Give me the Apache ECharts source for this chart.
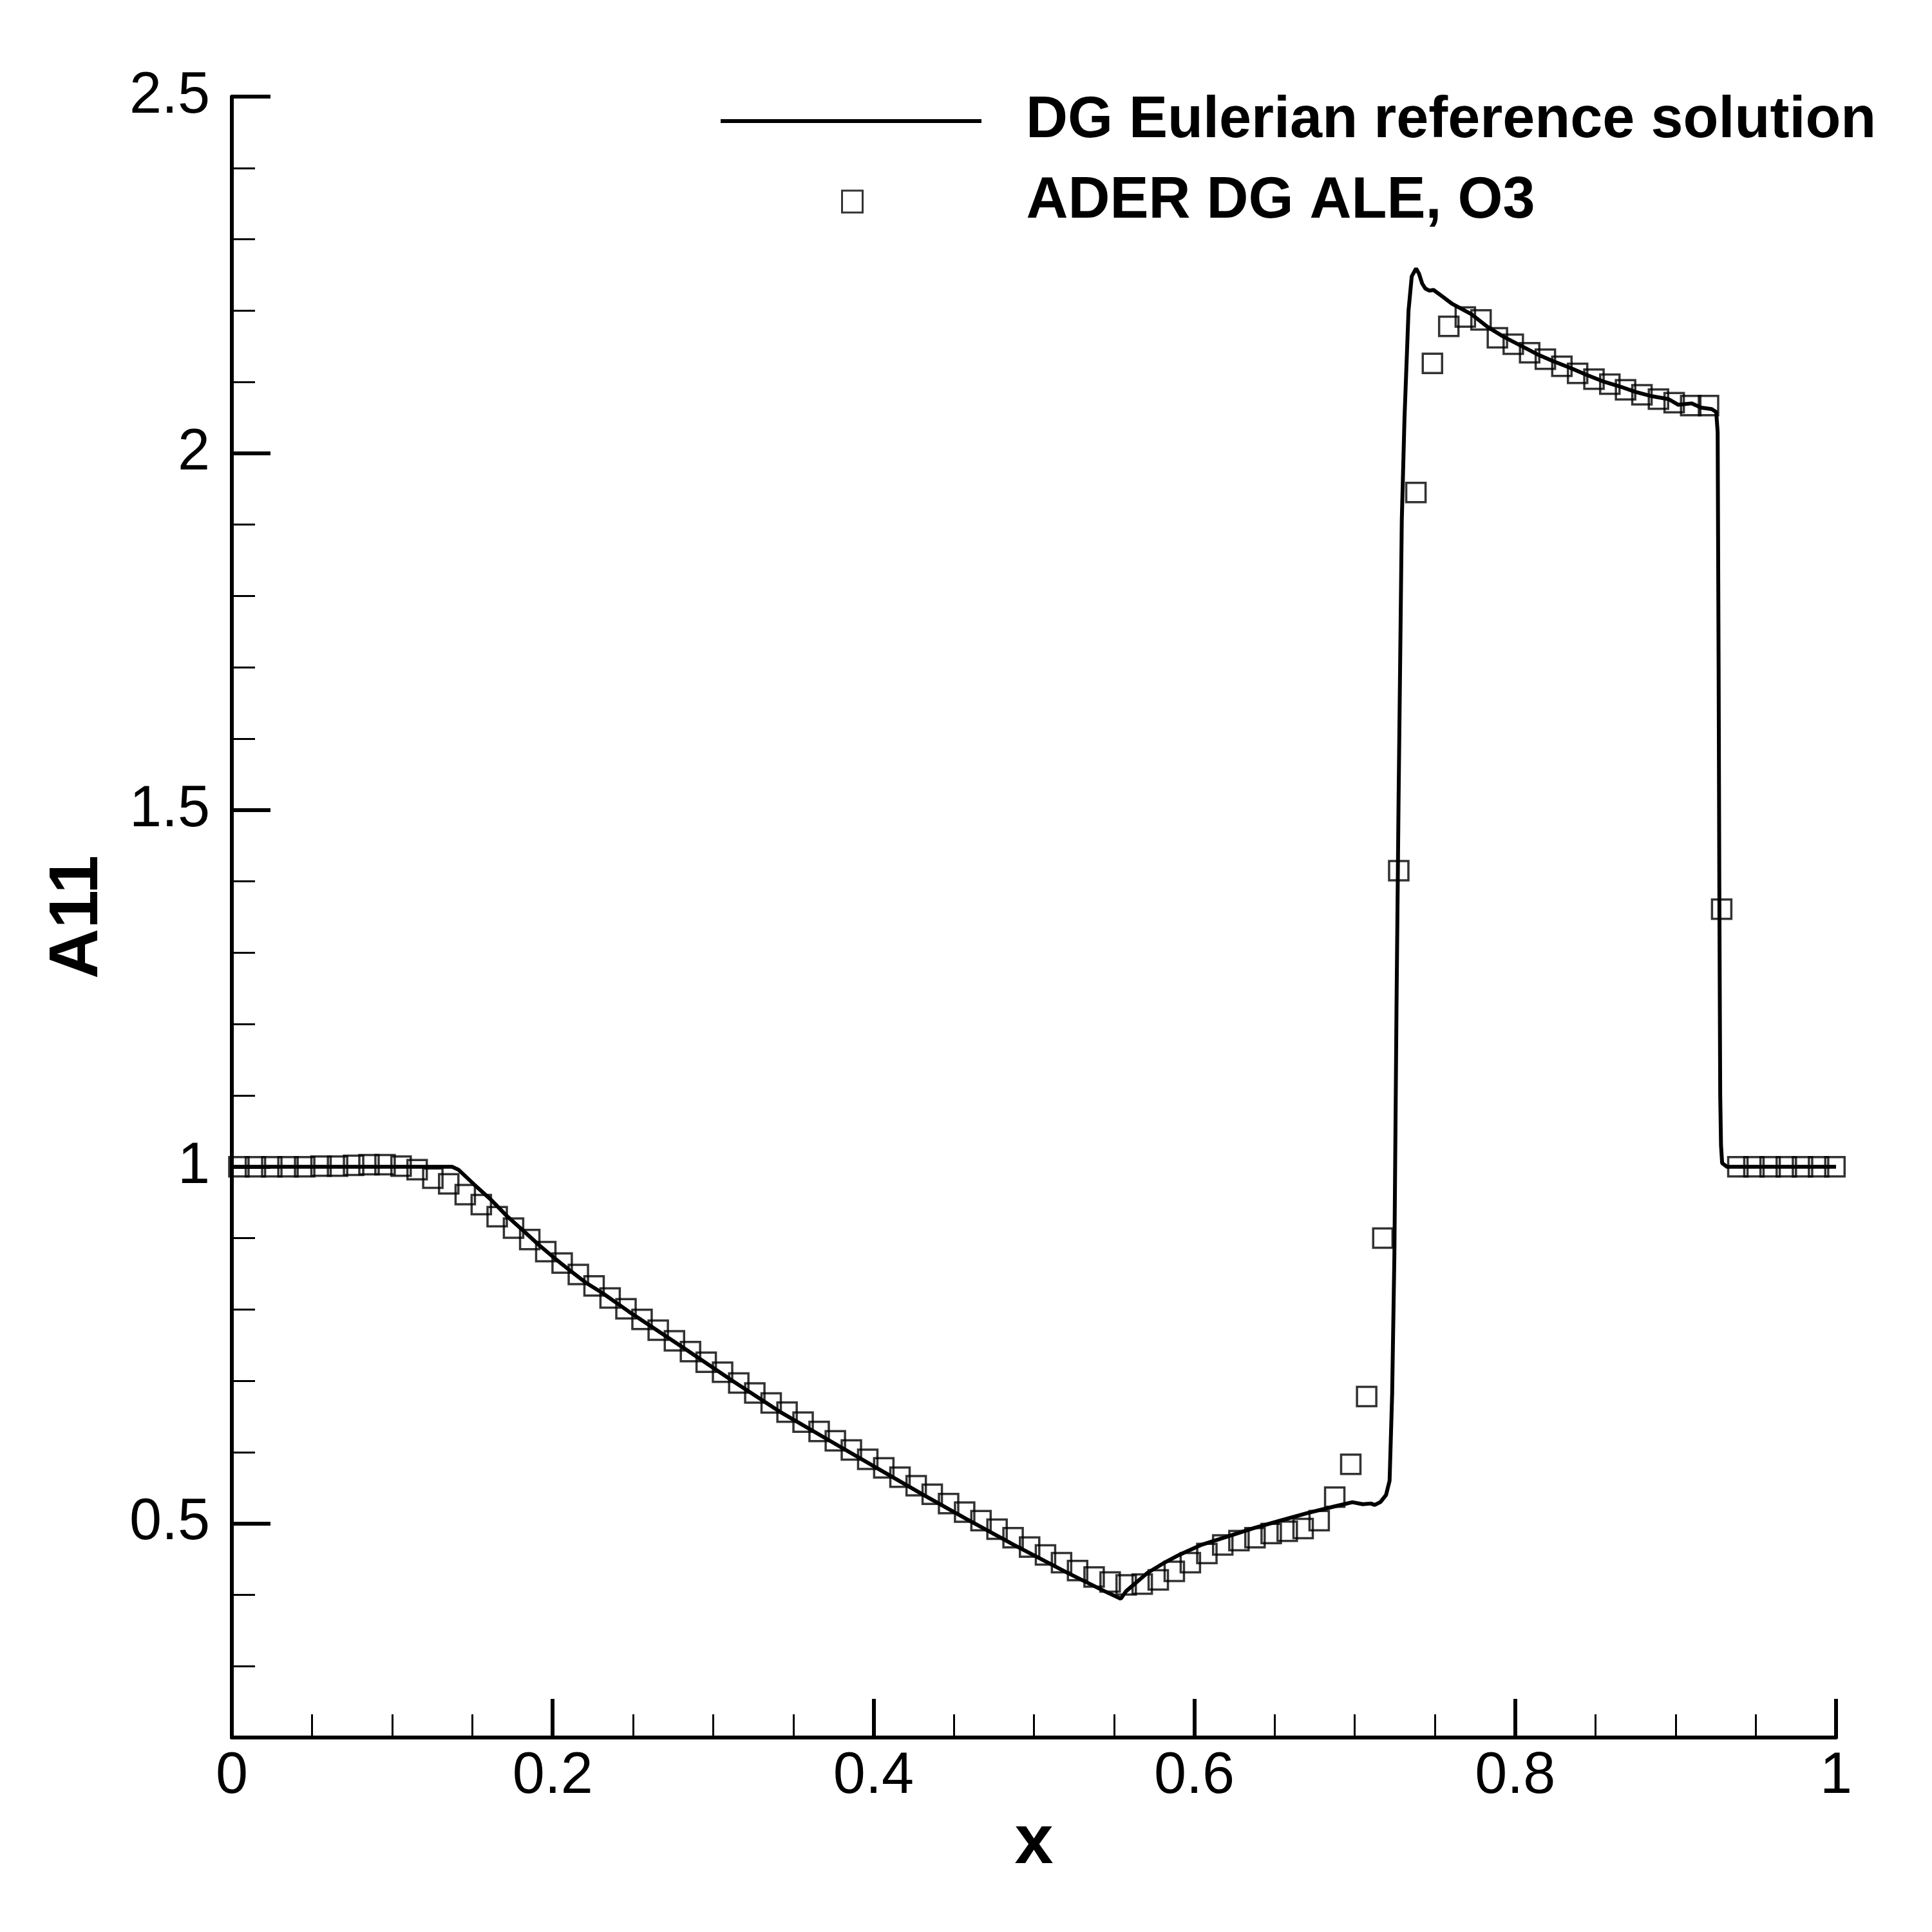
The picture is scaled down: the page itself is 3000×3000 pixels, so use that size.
<!DOCTYPE html>
<html>
<head>
<meta charset="utf-8">
<script src="https://cdn.jsdelivr.net/npm/echarts@6/dist/echarts.min.js"></script>
<style>
  html, body { margin: 0; padding: 0; background: #fff; }
  #chart { width: 3000px; height: 3000px; }
</style>
</head>
<body>
<div id="chart"></div>
<script>
// DG Eulerian reference solution (line)
var refX = [0, 0.05, 0.1, 0.1342, 0.1373, 0.1412, 0.1511, 0.1619, 0.1719, 0.1819, 0.1911, 0.2011,
  0.2111, 0.2210, 0.2310, 0.2475, 0.2813, 0.3120, 0.3428, 0.3735, 0.4011, 0.4319, 0.4577, 0.4875,
  0.5208, 0.5441, 0.5541, 0.5574, 0.5707, 0.5807, 0.5907, 0.6040, 0.6207, 0.6373, 0.6539, 0.6706,
  0.6872, 0.6985, 0.7050, 0.7100, 0.7124, 0.7160, 0.7195, 0.7217, 0.7233, 0.7247, 0.7260, 0.7273,
  0.7293, 0.7310, 0.7335, 0.7355, 0.7382, 0.7400, 0.7420, 0.7440, 0.7465, 0.7491, 0.7545, 0.7604,
  0.7727, 0.7829, 0.7931, 0.8034, 0.8136, 0.8238, 0.8341, 0.8444, 0.8546, 0.8648, 0.8751, 0.8853,
  0.8956, 0.9017, 0.9099, 0.9160, 0.9225, 0.9253, 0.9262, 0.9268, 0.9273, 0.9278, 0.9283, 0.9290,
  0.9320, 1.0];
var refY = [1.0, 1.0, 1.0, 1.0, 1.0, 0.996, 0.975, 0.953, 0.930, 0.910, 0.891, 0.872,
  0.854, 0.837, 0.823, 0.797, 0.7465, 0.700, 0.655, 0.615, 0.579, 0.539, 0.5065, 0.470,
  0.431, 0.405, 0.3945, 0.405, 0.4306, 0.4442, 0.4562, 0.4697, 0.4817, 0.4937, 0.5042, 0.5147,
  0.5238, 0.5298, 0.527, 0.528, 0.526, 0.530, 0.540, 0.560, 0.682, 0.878, 1.221, 1.514,
  1.906, 2.050, 2.200, 2.248, 2.259, 2.252, 2.238, 2.231, 2.228, 2.229, 2.220, 2.210,
  2.195, 2.177, 2.163, 2.151, 2.139, 2.129, 2.120, 2.110, 2.101, 2.094, 2.086, 2.080,
  2.076, 2.068, 2.070, 2.064, 2.062, 2.058, 2.030, 1.700, 1.360, 1.100, 1.030, 1.005,
  1.000, 1.000];

// ADER DG ALE, O3 (squares)
var aleX = [0.0044, 0.0147, 0.0249, 0.0350, 0.0454, 0.0556, 0.0659, 0.0759, 0.0855, 0.0955,
  0.1055, 0.1155, 0.1253, 0.1352, 0.1455, 0.1555, 0.1654, 0.1756, 0.1857, 0.1957,
  0.2059, 0.2160, 0.2258, 0.2358, 0.2457, 0.2557, 0.2658, 0.2759, 0.2859, 0.2957,
  0.3059, 0.3160, 0.3260, 0.3362, 0.3461, 0.3561, 0.3661, 0.3762, 0.3862, 0.3964,
  0.4064, 0.4165, 0.4266, 0.4366, 0.4468, 0.4568, 0.4670, 0.4770, 0.4870, 0.4973,
  0.5072, 0.5172, 0.5272, 0.5375, 0.5475, 0.5575, 0.5675, 0.5775, 0.5875, 0.5975,
  0.6078, 0.6177, 0.6278, 0.6378, 0.6479, 0.6579, 0.6678, 0.6778, 0.6875, 0.6975,
  0.7074, 0.7175, 0.7274, 0.7381, 0.7484, 0.7586, 0.7689, 0.7787, 0.7889, 0.7988,
  0.8090, 0.8188, 0.8291, 0.8389, 0.8491, 0.8590, 0.8688, 0.8790, 0.8893, 0.8991,
  0.9094, 0.9205, 0.9287, 0.9388, 0.9488, 0.9589, 0.9690, 0.9791, 0.9891, 0.9993];
var aleY = [1.000, 1.000, 1.000, 1.000, 1.000, 1.001, 1.001, 1.002, 1.003, 1.003,
  1.001, 0.996, 0.984, 0.976, 0.961, 0.947, 0.930, 0.914, 0.898, 0.881,
  0.865, 0.849, 0.833, 0.816, 0.801, 0.786, 0.771, 0.756, 0.741, 0.726,
  0.712, 0.697, 0.683, 0.669, 0.656, 0.642, 0.629, 0.616, 0.603, 0.590,
  0.578, 0.565, 0.553, 0.541, 0.528, 0.516, 0.504, 0.492, 0.480, 0.467,
  0.456, 0.445, 0.434, 0.425, 0.418, 0.414, 0.415, 0.421, 0.433, 0.445,
  0.458, 0.470, 0.476, 0.480, 0.486, 0.489, 0.493, 0.504, 0.537, 0.583,
  0.678, 0.900, 1.415, 1.945, 2.126, 2.178, 2.191, 2.187, 2.162, 2.153,
  2.141, 2.132, 2.122, 2.112, 2.104, 2.097, 2.089, 2.082, 2.076, 2.071,
  2.067, 2.067, 1.361, 1.000, 1.000, 1.000, 1.000, 1.000, 1.000, 1.000];

var seriesNames = ['DG Eulerian reference solution', 'ADER DG ALE, O3'];
var xRange = [0, 1];
var yRange = [0.2, 2.5];
var yMajorFrom = 0.5;  // first labelled y tick

var FONT = 'Liberation Sans, Arial, sans-serif';

function zip(xs, ys) {
  var out = [];
  for (var i = 0; i < xs.length; i++) out.push([xs[i], ys[i]]);
  return out;
}
function fmt(v) { return String(+v.toFixed(2)); }

// grid geometry (px)
var gLeft = 360, gRight = 149, gTop = 150, gBottom = 302;
var plotH = 3000 - gTop - gBottom;
var pxPerUnit = plotH / (yRange[1] - yRange[0]);
// second grid only carries the labelled major y ticks, starting at 0.5
var g2Bottom = gBottom + (yMajorFrom - yRange[0]) * pxPerUnit;

var chart = echarts.init(document.getElementById('chart'), null, { renderer: 'canvas' });

var option = {
  animation: false,
  backgroundColor: '#fff',
  textStyle: { fontFamily: FONT, color: '#000' },
  grid: [
    { left: gLeft, right: gRight, top: gTop, bottom: gBottom, outerBoundsMode: 'none' },
    { left: gLeft, right: gRight, top: gTop, bottom: g2Bottom, outerBoundsMode: 'none' }
  ],
  legend: [
    {
      data: [{ name: seriesNames[0], icon: 'rect' }],
      left: 1119, top: 143, padding: 0, itemGap: 0,
      itemWidth: 405, itemHeight: 6,
      selectedMode: false,
      itemStyle: { color: '#000', borderWidth: 0 },
      textStyle: { fontSize: 90, fontWeight: 'bold', fontFamily: FONT, color: '#000', padding: [0, 0, 0, 64] }
    },
    {
      data: [seriesNames[1]],
      left: 1306, top: 268, padding: 0, itemGap: 0,
      itemWidth: 32, itemHeight: 34,
      selectedMode: false,
      itemStyle: { color: 'rgba(0,0,0,0)', borderColor: '#000', borderWidth: 3 },
      textStyle: { fontSize: 90, fontWeight: 'bold', fontFamily: FONT, color: '#000', padding: [0, 0, 0, 249] }
    }
  ],
  xAxis: [
    {
      type: 'value', gridIndex: 0, min: xRange[0], max: xRange[1], interval: 0.2,
      name: 'x', nameLocation: 'middle', nameGap: 106,
      nameTextStyle: { fontSize: 108, fontWeight: 'bold', fontFamily: FONT, color: '#000' },
      axisLine: { show: true, onZero: false, lineStyle: { color: '#000', width: 6 } },
      axisTick: { show: true, inside: true, length: 60, lineStyle: { color: '#000', width: 6 } },
      minorTick: { show: true, splitNumber: 4, length: 36, lineStyle: { color: '#000', width: 3 } },
      axisLabel: { show: true, margin: 16, fontSize: 90, fontFamily: FONT, color: '#000', formatter: fmt },
      splitLine: { show: false },
      minorSplitLine: { show: false }
    },
    {
      type: 'value', gridIndex: 1, min: xRange[0], max: xRange[1], show: false
    }
  ],
  yAxis: [
    {
      type: 'value', gridIndex: 0, min: yRange[0], max: yRange[1], interval: 0.1,
      name: 'A11', nameLocation: 'middle', nameGap: 185, nameRotate: 90,
      nameTextStyle: { fontSize: 108, fontWeight: 'bold', fontFamily: FONT, color: '#000' },
      axisLine: { show: true, onZero: false, lineStyle: { color: '#000', width: 6 } },
      axisTick: { show: true, inside: true, length: 36, lineStyle: { color: '#000', width: 3 } },
      axisLabel: { show: false },
      splitLine: { show: false }
    },
    {
      type: 'value', gridIndex: 1, min: yMajorFrom, max: yRange[1], interval: 0.5,
      axisLine: { show: false },
      axisTick: { show: true, inside: true, length: 60, lineStyle: { color: '#000', width: 6 } },
      axisLabel: { show: true, margin: 34, fontSize: 90, fontFamily: FONT, color: '#000', formatter: fmt },
      splitLine: { show: false }
    }
  ],
  series: [
    {
      name: seriesNames[0],
      type: 'line',
      xAxisIndex: 0, yAxisIndex: 0,
      data: zip(refX, refY),
      symbol: 'none',
      showSymbol: false,
      lineStyle: { color: '#000', width: 6 },
      itemStyle: { color: '#000' },
      z: 2
    },
    {
      name: seriesNames[1],
      type: 'scatter',
      xAxisIndex: 0, yAxisIndex: 0,
      data: zip(aleX, aleY),
      symbol: 'rect',
      symbolSize: 30,
      itemStyle: { color: 'rgba(0,0,0,0)', borderColor: '#000', borderWidth: 3.5 },
      z: 3
    }
  ]
};

chart.setOption(option);
</script>
</body>
</html>
